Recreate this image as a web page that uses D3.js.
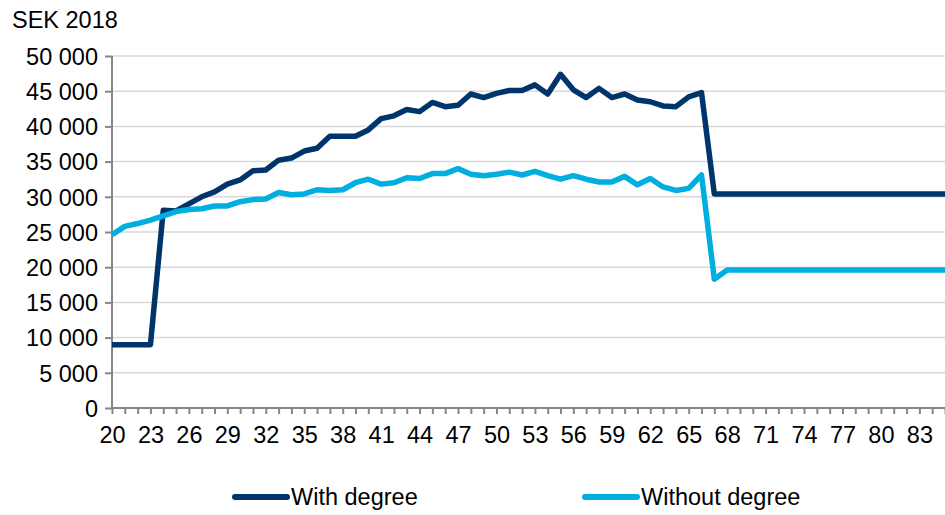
<!DOCTYPE html>
<html>
<head>
<meta charset="utf-8">
<script src="https://cdn.jsdelivr.net/npm/d3@7"></script>
<style>
  body { margin: 0; background: #fff; }
  svg text { font-family: "Liberation Sans", Arial, sans-serif; fill: #000; }
</style>
</head>
<body>
<svg id="chart"></svg>
<script>
// ages 20..85
const ages = d3.range(20, 86);

// with degree, SEK 2018 (ages 20-66, then flat pension level)
const withDegreeWork = [
  9000, 9000, 9000, 9000, 28100, 28000, 29000, 30000, 30700, 31800,
  32400, 33700, 33800, 35200, 35500, 36500, 36900, 38600, 38600, 38600,
  39500, 41100, 41500, 42400, 42100, 43400, 42800, 43000, 44600, 44100,
  44700, 45100, 45100, 45900, 44600, 47400, 45200, 44100, 45400, 44100,
  44600, 43750, 43500, 42900, 42800, 44200, 44800
];
const withDegreePension = 30400;

// without degree
const withoutDegreeWork = [
  24600, 25800, 26200, 26700, 27300, 27900, 28200, 28300, 28700, 28700,
  29300, 29600, 29700, 30600, 30300, 30400, 31000, 30900, 31000, 32000,
  32500, 31800, 32000, 32700, 32600, 33300, 33300, 34000, 33200, 33000,
  33200, 33500, 33100, 33600, 33000, 32500, 33000, 32500, 32100, 32100,
  32900, 31700, 32600, 31400, 30900, 31200, 33100
];
const withoutDegreePension = [18300, 19600];

const yTicks = d3.range(0, 50001, 5000);
const xTickLabels = d3.range(20, 84, 3);

const withDegree = ages.map((a, i) => i < withDegreeWork.length ? withDegreeWork[i] : withDegreePension);
const withoutDegree = ages.map((a, i) => {
  if (i < withoutDegreeWork.length) return withoutDegreeWork[i];
  if (i === withoutDegreeWork.length) return withoutDegreePension[0];
  return withoutDegreePension[1];
});

const series = [
  {name: 'With degree', color: '#00356B', values: withDegree},
  {name: 'Without degree', color: '#00AEDF', values: withoutDegree}
];

const W = 945, H = 515;
const margin = {top: 56, right: 0, bottom: 107, left: 112};
const fontSize = '23.5px';

const svg = d3.select('#chart').attr('width', W).attr('height', H);

const x = d3.scaleLinear().domain([20, 85]).range([margin.left, W - margin.right]);
const y = d3.scaleLinear().domain([0, 50000]).range([H - margin.bottom, margin.top]);

const fmt = d => d3.format(',')(d).replace(/,/g, ' ');

// gridlines
svg.append('g')
  .selectAll('line')
  .data(yTicks.filter(d => d > 0))
  .join('line')
    .attr('x1', margin.left).attr('x2', W - margin.right)
    .attr('y1', d => y(d)).attr('y2', d => y(d))
    .attr('stroke', '#D9D9D9').attr('stroke-width', 1.5);

// y axis
const yAxisG = svg.append('g')
  .attr('transform', `translate(${margin.left},0)`)
  .call(d3.axisLeft(y).tickValues(yTicks).tickSize(7).tickPadding(7).tickFormat(fmt));
yAxisG.selectAll('line, path').attr('stroke', '#868686').attr('stroke-width', 2);
yAxisG.select('.domain').attr('d', `M0,${y(50000)}V${y(0)}`);
yAxisG.selectAll('text').style('font-size', fontSize).attr('dy', '0.35em');

// x axis: a tick for every age, labels every 3 years
const xAxisG = svg.append('g')
  .attr('transform', `translate(0,${y(0)})`)
  .call(d3.axisBottom(x).tickValues(ages).tickSize(6).tickPadding(12)
    .tickFormat(d => xTickLabels.includes(d) ? d : ''));
xAxisG.selectAll('line, path').attr('stroke', '#868686').attr('stroke-width', 2);
xAxisG.select('.domain').attr('d', `M${x(20)},0H${x(85)}`);
xAxisG.selectAll('text').style('font-size', fontSize);

// lines
const line = d3.line()
  .x((d, i) => x(ages[i]))
  .y(d => y(d));

svg.append('g')
  .selectAll('path')
  .data(series)
  .join('path')
    .attr('d', d => line(d.values))
    .attr('fill', 'none')
    .attr('stroke', d => d.color)
    .attr('stroke-width', 5.5)
    .attr('stroke-linejoin', 'round');

// y title
svg.append('text')
  .attr('x', 12).attr('y', 28)
  .style('font-size', fontSize)
  .text('SEK 2018');

// legend
const legend = svg.append('g')
  .selectAll('g')
  .data(series)
  .join('g')
    .attr('transform', (d, i) => `translate(${235 + i * 350},497)`);

legend.append('line')
  .attr('x1', 0).attr('x2', 52)
  .attr('stroke', d => d.color)
  .attr('stroke-width', 6)
  .attr('stroke-linecap', 'round');

legend.append('text')
  .attr('x', 56).attr('dy', '0.35em')
  .style('font-size', fontSize)
  .text(d => d.name);
</script>
</body>
</html>
